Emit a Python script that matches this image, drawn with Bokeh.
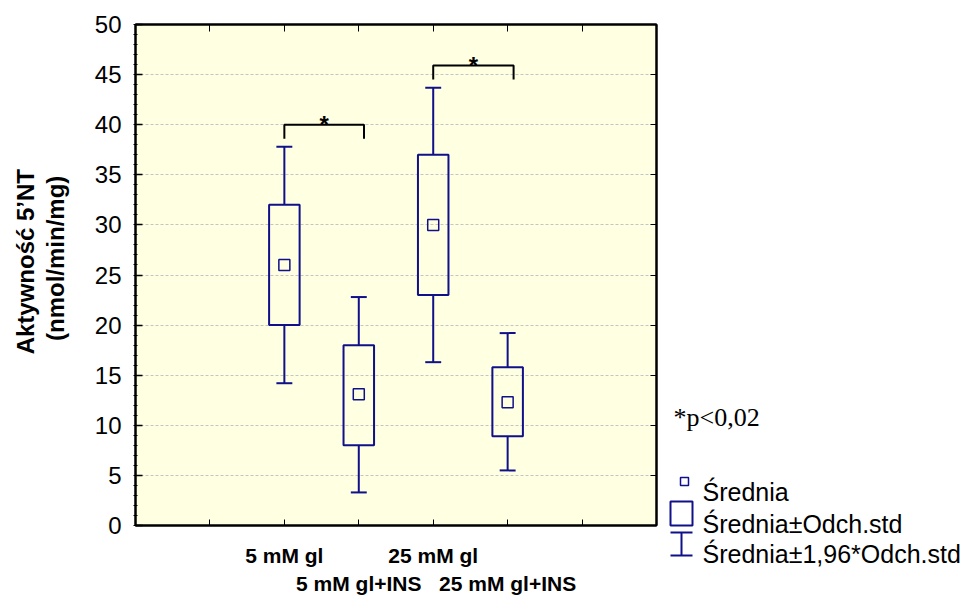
from bokeh.plotting import figure
from bokeh.models import (Range1d, LinearAxis, FixedTicker, SingleIntervalTicker,
                          ColumnDataSource, Grid)
from bokeh.layouts import row
from bokeh.embed import file_html
from bokeh.resources import INLINE
from bokeh.core.properties import value

# ---------------- data ----------------
groups = ["5 mM gl", "5 mM gl+INS", "25 mM gl", "25 mM gl+INS"]
xpos = [2, 3, 4, 5]
label_row = [0, 1, 0, 1]
means = [26.0, 13.1, 30.0, 12.3]
sd_low = [20.0, 8.0, 23.0, 8.9]
sd_high = [32.0, 18.0, 37.0, 15.8]
ci_low = [14.2, 3.3, 16.3, 5.5]
ci_high = [37.8, 22.8, 43.7, 19.2]

y_ticks_interval = 5
x_ticks = [1, 2, 3, 4, 5, 6]
grid_ticks = [5, 10, 15, 20, 25, 30, 35, 40, 45]

bracket_x0 = [2, 4]
bracket_x1 = [3.07, 5.08]
bracket_top = [40.0, 45.9]
bracket_bottom = [38.6, 44.5]
star_y = [40.0, 45.9]

y_label_lines = ["Aktywność 5’NT", "(nmol/min/mg)"]
sig_text = "*p<0,02"
legend_labels = ["Średnia", "Średnia±Odch.std", "Średnia±1,96*Odch.std"]

# ---------------- style ----------------
NAVY = "#10108a"
BG = "#ffffe1"
SANS = "Liberation Sans"
SERIF = "Liberation Serif"
BOX_W = 0.41
CAP_HW = 0.107
NBSP = "\u00a0"

p = figure(width=660, height=597, x_range=Range1d(0, 7), y_range=Range1d(0, 50),
           output_backend="svg", toolbar_location=None,
           x_axis_type=None, y_axis_type=None,
           min_border_left=135, min_border_right=2, min_border_top=24, min_border_bottom=71,
           background_fill_color=BG, border_fill_color="white",
           outline_line_color="black", outline_line_width=2)
p.frame_align = False

p.add_layout(Grid(dimension=1, ticker=FixedTicker(ticks=grid_ticks),
                  grid_line_color="#c4c4c4", grid_line_dash="3 2", grid_line_width=1))

def hidden_labels(ax):
    ax.major_label_text_font_size = "1px"
    ax.major_label_text_color = None
    ax.major_label_standoff = 0

# left axis (ticks + second label line); leading no-break spaces lift the label a little
yax = LinearAxis(ticker=SingleIntervalTicker(interval=y_ticks_interval, num_minor_ticks=5),
                 axis_line_width=2, axis_line_color="black",
                 major_tick_in=7, major_tick_out=0, major_tick_line_width=1.5,
                 minor_tick_in=2, minor_tick_out=2, minor_tick_line_width=1,
                 major_label_text_font=SANS, major_label_text_font_size="24px",
                 major_label_text_color="black", major_label_standoff=12,
                 axis_label=NBSP * 5 + y_label_lines[1], axis_label_text_font=SANS,
                 axis_label_text_font_style="bold", axis_label_text_font_size="24px",
                 axis_label_text_color="black", axis_label_standoff=23)
p.add_layout(yax, "left")
# outer left axis carrying only the first label line
yax2 = LinearAxis(ticker=FixedTicker(ticks=[]), axis_line_color=None,
                  major_tick_line_color=None, minor_tick_line_color=None,
                  axis_label=NBSP * 4 + y_label_lines[0], axis_label_text_font=SANS,
                  axis_label_text_font_style="bold", axis_label_text_font_size="24px",
                  axis_label_text_color="black", axis_label_standoff=0)
hidden_labels(yax2)
p.add_layout(yax2, "left")

rax = LinearAxis(ticker=SingleIntervalTicker(interval=y_ticks_interval, num_minor_ticks=5),
                 axis_line_width=2, major_tick_in=6, major_tick_out=0,
                 minor_tick_line_color=None)
hidden_labels(rax)
p.add_layout(rax, "right")

tax = LinearAxis(ticker=FixedTicker(ticks=x_ticks), axis_line_width=2,
                 major_tick_in=7, major_tick_out=0, minor_tick_line_color=None)
hidden_labels(tax)
p.add_layout(tax, "above")

# bottom axes: two staggered rows of category labels
row0 = {t: "" for t in x_ticks}
row1 = {}
for g, x, r in zip(groups, xpos, label_row):
    if r == 0:
        row0[x] = g
    else:
        row1[x] = g

xax = LinearAxis(ticker=FixedTicker(ticks=x_ticks), axis_line_width=2,
                 major_tick_in=6, major_tick_out=0, minor_tick_line_color=None,
                 major_label_overrides=row0, major_label_text_font=SANS,
                 major_label_text_font_style="bold", major_label_text_font_size="21px",
                 major_label_text_color="black", major_label_standoff=18)
p.add_layout(xax, "below")
xax2 = LinearAxis(ticker=FixedTicker(ticks=list(row1.keys())), axis_line_color=None,
                  major_tick_line_color=None, minor_tick_line_color=None,
                  major_label_overrides=row1, major_label_text_font=SANS,
                  major_label_text_font_style="bold", major_label_text_font_size="21px",
                  major_label_text_color="black", major_label_standoff=-4)
p.add_layout(xax2, "below")

src = ColumnDataSource(dict(x=xpos, mean=means, lo=sd_low, hi=sd_high,
                            clo=ci_low, chi=ci_high,
                            xl=[x - CAP_HW for x in xpos], xr=[x + CAP_HW for x in xpos]))

p.vbar(x="x", width=BOX_W, bottom="lo", top="hi", source=src,
       fill_color=None, line_color=NAVY, line_width=2)
p.segment(x0="x", y0="hi", x1="x", y1="chi", source=src, line_color=NAVY, line_width=2)
p.segment(x0="x", y0="lo", x1="x", y1="clo", source=src, line_color=NAVY, line_width=2)
p.segment(x0="xl", y0="chi", x1="xr", y1="chi", source=src, line_color=NAVY, line_width=2)
p.segment(x0="xl", y0="clo", x1="xr", y1="clo", source=src, line_color=NAVY, line_width=2)
p.scatter(x="x", y="mean", source=src, marker="square", size=11,
          fill_color=None, line_color=NAVY, line_width=1.5)

bxs = [[a, a, b, b] for a, b in zip(bracket_x0, bracket_x1)]
bys = [[lo, hi, hi, lo] for lo, hi in zip(bracket_bottom, bracket_top)]
p.multi_line(xs=bxs, ys=bys, line_color="black", line_width=2)
p.text(x=[(a + b) / 2 for a, b in zip(bracket_x0, bracket_x1)], y=star_y,
       text=["*"] * len(star_y), text_font=value(SANS), text_font_style="bold",
       text_font_size="24px", text_align="center", text_baseline="alphabetic",
       text_color="black")

# ---------------- legend panel ----------------
q = figure(width=305, height=597, x_range=Range1d(0, 305), y_range=Range1d(597, 0),
           output_backend="svg", toolbar_location=None,
           x_axis_type=None, y_axis_type=None, min_border=0,
           background_fill_color="white", border_fill_color="white",
           outline_line_color=None)
q.frame_align = False

q.text(x=[13], y=[417], text=[sig_text], text_font=value(SERIF), text_font_size="26px",
       text_align="left", text_baseline="alphabetic", text_color="black")

q.scatter(x=[24], y=[481], marker="square", size=8, fill_color=None,
          line_color=NAVY, line_width=1.5)
q.quad(left=[10], right=[32], top=[501], bottom=[525], fill_color=None,
       line_color=NAVY, line_width=2)
q.segment(x0=[21, 10, 10], y0=[532, 532, 555], x1=[21, 32, 32], y1=[555, 532, 555],
          line_color=NAVY, line_width=2)
q.text(x=[42, 42, 42], y=[491, 523, 553], text=legend_labels, text_font=value(SANS),
       text_font_size="25px", text_align="left", text_baseline="alphabetic",
       text_color="black")

layout = row(p, q)
open("out.html", "w").write(file_html(layout, INLINE))
